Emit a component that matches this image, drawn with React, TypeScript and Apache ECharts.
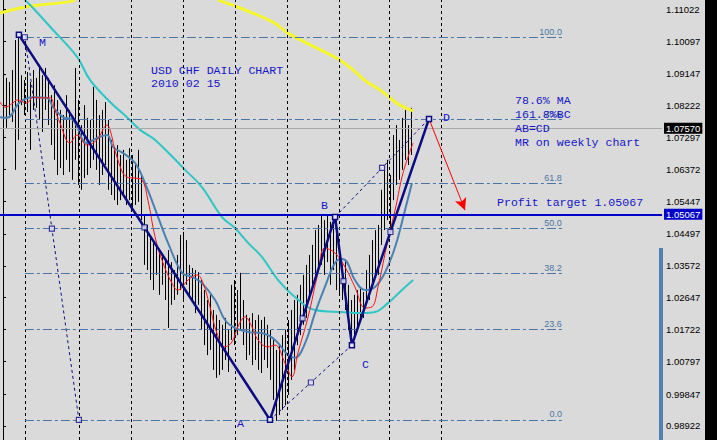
import React, { useEffect, useRef } from "react";
import * as echarts from "echarts";

// ---- price bars (daily, USD/CHF) : bar index i ----
const barHigh = [
  1.0897, 1.0903, 1.0891, 1.0926, 1.1013, 1.1022, 1.0911, 1.0897, 1.092, 1.0891,
  1.0926, 1.0903, 1.0941, 1.0911, 1.0932, 1.0903, 1.0853, 1.0882, 1.0839, 1.081,
  1.0795, 1.0853, 1.081, 1.0781, 1.0932, 1.0839, 1.0766, 1.0824, 1.0787, 1.0781,
  1.0877, 1.0839, 1.0795, 1.081, 1.0833, 1.0781, 1.0723, 1.0694, 1.0708, 1.0679,
  1.0694, 1.0665, 1.0699, 1.0679, 1.065, 1.0694, 1.0621, 1.0505, 1.0476, 1.0447,
  1.0432, 1.0418, 1.0403, 1.0389, 1.0374, 1.0403, 1.0368, 1.0345, 1.0389, 1.0447,
  1.0456, 1.0432, 1.036, 1.0351, 1.0345, 1.0339, 1.0316, 1.0287, 1.0258, 1.0273,
  1.0229, 1.0215, 1.02, 1.0186, 1.0206, 1.0171, 1.0302, 1.0316, 1.0287, 1.0337,
  1.0258, 1.0215, 1.0206, 1.022, 1.02, 1.0215, 1.02, 1.0209, 1.0186, 1.0171,
  1.0142, 1.0113, 1.0127, 1.0156, 1.0171, 1.02, 1.0229, 1.0258, 1.0273, 1.0302,
  1.0331, 1.036, 1.0389, 1.0418, 1.0461, 1.0476, 1.0505, 1.049, 1.0505, 1.0485,
  1.0496, 1.0461, 1.0418, 1.036, 1.0374, 1.0302, 1.0258, 1.0273, 1.0287, 1.0293,
  1.0281, 1.0345, 1.0389, 1.0432, 1.0461, 1.0476, 1.0578, 1.0636, 1.0665, 1.0621,
  1.0737, 1.0766, 1.0723, 1.0787, 1.081, 1.0766, 1.0816,
];
const barLow = [
  1.076, 1.0758, 1.0795, 1.0775, 1.0636, 1.0723, 1.0824, 1.0795, 1.0804, 1.0694,
  1.081, 1.0816, 1.0781, 1.0746, 1.081, 1.0766, 1.0708, 1.0665, 1.0621, 1.0641,
  1.0621, 1.0665, 1.063, 1.0607, 1.0665, 1.0592, 1.0578, 1.0612, 1.0621, 1.0641,
  1.0665, 1.0636, 1.0592, 1.0621, 1.065, 1.0578, 1.0563, 1.0548, 1.0534, 1.0548,
  1.0563, 1.0534, 1.0548, 1.0519, 1.0534, 1.0543, 1.049, 1.036, 1.0345, 1.0316,
  1.0287, 1.0331, 1.0273, 1.0302, 1.0258, 1.0177, 1.0244, 1.0258, 1.0273, 1.0287,
  1.0258, 1.0302, 1.0273, 1.0258, 1.022, 1.0244, 1.0171, 1.0127, 1.0098, 1.0113,
  1.0055, 1.0032, 1.004, 1.0055, 1.0084, 1.0049, 1.0142, 1.0127, 1.0156, 1.0171,
  1.0127, 1.0084, 1.0098, 1.0069, 1.0084, 1.0055, 1.0046, 1.0084, 1.0061, 1.0026,
  0.9968, 0.9907, 0.9924, 0.9939, 0.9953, 0.9982, 1.0026, 1.0055, 1.0127, 1.0156,
  1.0186, 1.0206, 1.0258, 1.0287, 1.0316, 1.0345, 1.036, 1.0331, 1.0368, 1.0302,
  1.0345, 1.0287, 1.0273, 1.0258, 1.0229, 1.0171, 1.0127, 1.0156, 1.0177, 1.0194,
  1.0206, 1.0244, 1.0258, 1.0302, 1.0322, 1.0331, 1.0418, 1.0461, 1.049, 1.0447,
  1.0548, 1.0592, 1.0607, 1.0636, 1.0665, 1.065, 1.0679,
];

// ---- moving averages, sampled [bar index, price] ----
const yellowMA_a: [number, number][] = [
  [-1, 1.1091], [5.7, 1.1106], [12.3, 1.1115], [21.3, 1.1123], [24, 1.1129],
];
const yellowMA_b: [number, number][] = [
  [71.7, 1.1129], [79, 1.1106], [90, 1.1065], [95, 1.1033], [101.3, 1.1004],
  [108, 1.0975], [112.3, 1.0955], [116.7, 1.0926], [121.3, 1.0891], [125.7, 1.0868],
  [129, 1.0845], [132.3, 1.0824], [136.7, 1.0807],
];
const cyanMA: [number, number][] = [
  [7.3, 1.1129], [10, 1.1106], [16.7, 1.1042], [24.7, 1.0964], [29, 1.0897],
  [35.7, 1.0833], [41.3, 1.0789], [45.7, 1.0752], [50.7, 1.0723], [60.7, 1.0636],
  [66.3, 1.0586], [73, 1.0499], [77.3, 1.0467], [81.7, 1.0424], [86.3, 1.0383],
  [91.7, 1.0316], [97.3, 1.0267], [104, 1.0229], [113, 1.0223], [119.7, 1.022],
  [124, 1.0223], [128.3, 1.0249], [133, 1.0287], [136.7, 1.0316],
];
const steelMA: [number, number][] = [
  [-1, 1.0789], [1.3, 1.0787], [5.7, 1.0833], [10, 1.0847], [14.7, 1.0845],
  [16.7, 1.0818], [20, 1.0789], [23.3, 1.0781], [28, 1.0714], [31.3, 1.0728],
  [34.7, 1.0737], [36.7, 1.0702], [40, 1.0685], [44, 1.0656], [47.3, 1.0598],
  [51.7, 1.0499], [55, 1.0424], [59.7, 1.0337], [63, 1.0325], [66.3, 1.0307],
  [70.7, 1.0258], [74, 1.02], [77.3, 1.0177], [81.7, 1.0165], [86.3, 1.0162],
  [90.7, 1.0142], [95, 1.0098], [97.3, 1.009], [100.7, 1.0133], [104, 1.022],
  [107.3, 1.0296], [110.7, 1.0366], [113, 1.0377], [114.7, 1.0368], [117.3, 1.0316],
  [120.7, 1.0287], [124, 1.0296], [127.3, 1.0337], [130.7, 1.0412], [134, 1.0519],
  [136.3, 1.0598],
];
const redMA: [number, number][] = [
  [-1, 1.0833], [0.7, 1.0818], [3.3, 1.083], [4.7, 1.0839], [8, 1.083],
  [10, 1.0847], [12.3, 1.0845], [15.7, 1.0845], [17.3, 1.081], [19, 1.0772],
  [22.3, 1.0714], [24.7, 1.0737], [28, 1.0708], [31.3, 1.0723], [34.7, 1.0766],
  [35.7, 1.0752], [38, 1.0673], [41.3, 1.0615], [44, 1.0612], [46.3, 1.0607],
  [48.3, 1.0548], [50.7, 1.0441], [53, 1.0374], [56.3, 1.0307], [58.3, 1.0287],
  [61.7, 1.0316], [64.7, 1.0331], [66.7, 1.0307], [69, 1.0238], [71.3, 1.0162],
  [74, 1.0122], [76.3, 1.0136], [78.3, 1.018], [80.7, 1.0209], [83, 1.018],
  [85, 1.0142], [88.3, 1.0122], [90.7, 1.0127], [94, 1.0075], [96.3, 1.0035],
  [98.3, 1.0104], [101.7, 1.0209], [105, 1.0337], [107.3, 1.0409], [110.7, 1.0394],
  [114, 1.0354], [117.3, 1.0296], [120.7, 1.0235], [123, 1.0238], [125, 1.0296],
  [128.3, 1.0432], [130.7, 1.0519], [133, 1.0615], [135, 1.0673], [136.7, 1.0714],
];

// ---- harmonic pattern M(X) - A - B - C - D ----
const patternNames = ["M", "A", "B", "C", "D"];
const patternIdx = [5.3, 89, 110.7, 116.3, 142];
const patternPrice = [1.1028, 0.991, 1.0499, 1.0127, 1.0784];

// ---- Fibonacci retracement ----
const fibPct = [0, 23.6, 38.2, 50, 61.8, 78.6, 100];
const fibAnchorHigh: [number, number] = [7.3, 1.1021];
const fibAnchorLow: [number, number] = [25.3, 0.991];
const fibLineEndIdx = 186.3;

// ---- other levels ----
const lastPrice = 1.0757;
const profitTarget = 1.05067;
const arrowTip: [number, number] = [154, 1.0519];
const gridBars = [7.5, 25.5, 42.8, 60.2, 77.5, 94.8, 112.2, 128.8, 146.2];
const yTickLabels = [
  1.11022, 1.10097, 1.09147, 1.08222, 1.07297, 1.06372, 1.05447, 1.04497,
  1.03572, 1.02647, 1.01722, 1.00797, 0.99847, 0.98922,
];

const NAVY = "#0c0c82";
const TXT = "#1616c8";
const FIB = "#4a76a6";
const MONO = '"Liberation Mono", "DejaVu Sans Mono", monospace';
const SANS = '"Liberation Sans", Arial, sans-serif';

export default function App() {
  const ref = useRef<HTMLDivElement>(null);
  useEffect(() => {
    document.body.style.margin = "0";
    const chart = echarts.init(ref.current!, null, { renderer: "svg" });

    const pat: [number, number][] = patternIdx.map((x, i) => [x, patternPrice[i]]);
    const mid = (a: [number, number], b: [number, number]): [number, number] => [
      (a[0] + b[0]) / 2,
      (a[1] + b[1]) / 2,
    ];
    const fibPrice = (p: number) =>
      fibAnchorLow[1] + (p / 100) * (fibAnchorHigh[1] - fibAnchorLow[1]);
    const markers: [number, number][] = [
      mid(pat[0], pat[1]), mid(pat[1], pat[2]), mid(pat[2], pat[3]), mid(pat[3], pat[4]),
      mid(pat[1], pat[3]), mid(pat[2], pat[4]), mid(fibAnchorHigh, fibAnchorLow),
      fibAnchorHigh, fibAnchorLow,
    ];
    const dashed = (a: [number, number], b: [number, number]) => ({
      type: "line",
      data: [a, b],
      showSymbol: false,
      silent: true,
      z: 4,
      lineStyle: { color: NAVY, width: 1, type: [3, 3] },
    });
    const boxLabel = (v: number, bg: string) => ({
      show: true,
      position: "end",
      distance: 2,
      formatter: () => v.toFixed(5),
      color: "#fff",
      backgroundColor: bg,
      padding: [1, 2, 0, 2],
      fontSize: 9.5,
      fontFamily: SANS,
    });

    const option: any = {
      animation: false,
      backgroundColor: "#dadada",
      grid: { left: 0, right: 55, top: 0, bottom: 0 },
      xAxis: { type: "value", min: -1, max: 219.67, show: false },
      yAxis: {
        type: "value",
        position: "right",
        min: 0.98515,
        max: 1.11292,
        splitLine: { show: false },
        axisLine: { show: true, lineStyle: { color: "#000", width: 1 } },
        axisTick: {
          show: true,
          inside: false,
          length: 3,
          customValues: yTickLabels,
          lineStyle: { color: "#000" },
        },
        axisLabel: {
          customValues: yTickLabels,
          formatter: (v: number) => v.toFixed(5),
          color: "#000",
          fontSize: 9.5,
          fontFamily: SANS,
          margin: 4,
        },
      },
      series: [
        {
          type: "line",
          data: [],
          z: 1,
          silent: true,
          markLine: {
            silent: true,
            symbol: "none",
            precision: 5,
            label: { show: false },
            lineStyle: { color: "#000", width: 1, type: [3, 3] },
            data: gridBars.map((v) => ({ xAxis: v })),
          },
        },
        {
          type: "line",
          data: [],
          z: 1,
          silent: true,
          markLine: {
            silent: true,
            symbol: "none",
            precision: 5,
            lineStyle: { color: FIB, width: 1, type: [9, 3, 3, 3] },
            label: {
              show: true,
              position: "insideEndTop",
              formatter: "{b}",
              color: FIB,
              fontSize: 9,
              fontFamily: SANS,
              distance: [0, 1],
            },
            data: fibPct.map((p) => [
              { name: p.toFixed(1), coord: [fibAnchorHigh[0], fibPrice(p)] },
              { coord: [fibLineEndIdx, fibPrice(p)] },
            ]),
          },
        },
        {
          type: "line",
          data: [],
          z: 1,
          silent: true,
          markLine: {
            silent: true,
            symbol: "none",
            precision: 5,
            data: [
              {
                yAxis: lastPrice,
                lineStyle: { color: "#a9a9a9", width: 1, type: "solid" },
                label: boxLabel(lastPrice, "#000"),
              },
              {
                yAxis: profitTarget,
                lineStyle: { color: "#0000c8", width: 2, type: "solid" },
                label: boxLabel(profitTarget, "#0000c8"),
              },
            ],
          },
        },
        {
          type: "custom",
          z: 2,
          silent: true,
          data: barHigh.map((h, i) => [i, h, barLow[i]]),
          encode: { x: 0, y: [1, 2] },
          renderItem: (params: any, api: any) => {
            const i = api.value(0);
            const hi = api.coord([i, api.value(1)]);
            const lo = api.coord([i, api.value(2)]);
            const px = Math.round(hi[0]) + 0.5;
            return {
              type: "line",
              shape: { x1: px, y1: hi[1], x2: px, y2: lo[1] },
              style: { stroke: "#000", lineWidth: 1 },
            };
          },
        },
        ...[yellowMA_a, yellowMA_b].map((d) => ({
          type: "line",
          data: d,
          smooth: 0.4,
          showSymbol: false,
          silent: true,
          z: 3,
          lineStyle: { color: "#f6f62c", width: 3 },
        })),
        {
          type: "line",
          data: cyanMA,
          smooth: 0.4,
          showSymbol: false,
          silent: true,
          z: 3,
          lineStyle: { color: "#2ec6c6", width: 2 },
        },
        {
          type: "line",
          data: steelMA,
          smooth: 0.4,
          showSymbol: false,
          silent: true,
          z: 3,
          lineStyle: { color: "#4a80b2", width: 2 },
        },
        {
          type: "line",
          data: redMA,
          smooth: 0.4,
          showSymbol: false,
          silent: true,
          z: 3,
          lineStyle: { color: "#ff1010", width: 1 },
        },
        dashed(pat[1], pat[3]),
        dashed(pat[2], pat[4]),
        dashed(fibAnchorHigh, fibAnchorLow),
        {
          type: "line",
          data: pat,
          showSymbol: true,
          symbol: "rect",
          symbolSize: 5,
          silent: true,
          z: 5,
          lineStyle: { color: NAVY, width: 2.5 },
          itemStyle: { color: "#e6e6ff", borderColor: NAVY, borderWidth: 1.5 },
        },
        {
          type: "scatter",
          data: markers,
          symbol: "rect",
          symbolSize: 5,
          silent: true,
          z: 6,
          itemStyle: { color: "#eeeeff", borderColor: NAVY, borderWidth: 1.2 },
        },
        {
          type: "line",
          data: [],
          z: 6,
          silent: true,
          markLine: {
            silent: true,
            symbol: ["none", "arrow"],
            symbolSize: [9, 12],
            precision: 5,
            label: { show: false },
            lineStyle: { color: "#ff0000", width: 1, type: "solid" },
            data: [[{ coord: pat[4] }, { coord: arrowTip }]],
          },
        },
      ],
      graphic: [
        { type: "rect", shape: { x: 705, y: 0, width: 12, height: 440 }, style: { fill: "#000" }, z: 10 },
        { type: "rect", shape: { x: 659, y: 248, width: 4, height: 192 }, style: { fill: "#4f82b3" }, z: 10 },
        ...[
          { t: "USD CHF DAILY CHART", x: 151, y: 70 },
          { t: "2010 02 15", x: 151, y: 83 },
          { t: "78.6% MA", x: 515, y: 100 },
          { t: "161.8%BC", x: 515, y: 114 },
          { t: "AB=CD", x: 515, y: 128 },
          { t: "MR on weekly chart", x: 515, y: 142 },
          { t: "Profit target 1.05067", x: 497, y: 202 },
          { t: patternNames[0], x: 39, y: 42 },
          { t: patternNames[1], x: 237, y: 423 },
          { t: patternNames[2], x: 321, y: 205 },
          { t: patternNames[3], x: 362, y: 364 },
          { t: patternNames[4], x: 443, y: 117 },
        ].map((o) => ({
          type: "text",
          z: 8,
          style: {
            text: o.t,
            x: o.x,
            y: o.y,
            fill: TXT,
            font: `11.6px ${MONO}`,
            align: "left",
            verticalAlign: "middle",
          },
        })),
      ],
    };
    chart.setOption(option);
    return () => chart.dispose();
  }, []);
  return (
    <div
      ref={ref}
      style={{ position: "absolute", left: 0, top: 0, width: 717, height: 440, background: "#dadada" }}
    />
  );
}
